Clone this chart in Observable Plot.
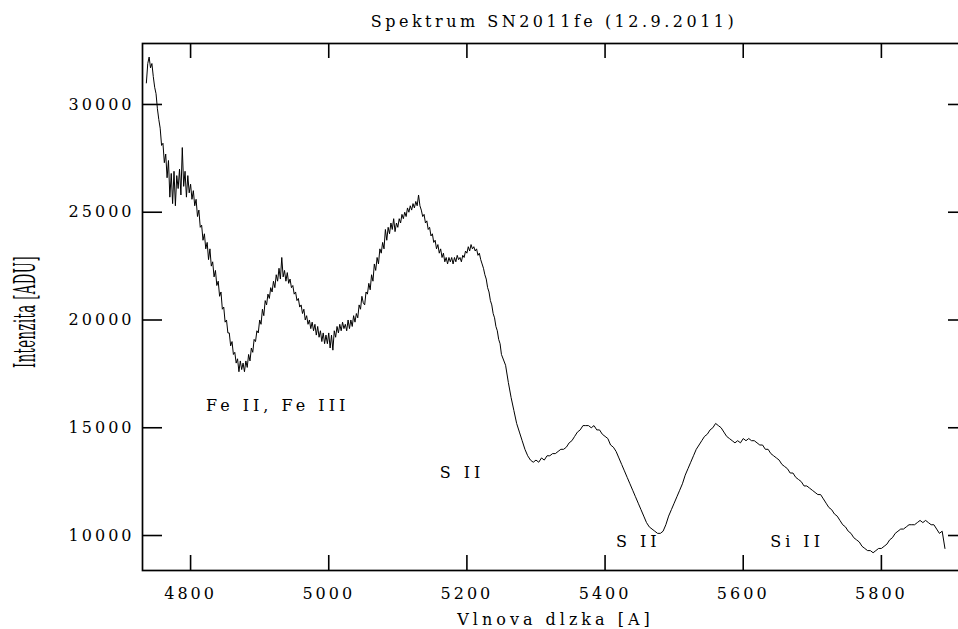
<!DOCTYPE html>
<html>
<head>
<meta charset="utf-8">
<script src="https://cdn.jsdelivr.net/npm/d3@7"></script>
<script src="https://cdn.jsdelivr.net/npm/@observablehq/plot@0.6"></script>
<style>
  html, body { margin: 0; padding: 0; background: #fff; overflow: hidden; }
  #wrap { position: relative; width: 958px; height: 629px; }
  #title { position: absolute; left: 554px; top: 12px; transform: translateX(-50%);
           font-family: "DejaVu Serif", serif; font-size: 16px; letter-spacing: 3.5px; white-space: nowrap; color: #000; }
  #chart { position: absolute; left: 0; top: 40px; }
</style>
</head>
<body>
<div id="wrap">
  <div id="title">Spektrum SN2011fe (12.9.2011)</div>
  <div id="chart"></div>
</div>
<script>
// wavelength [A] (blue part sampled every 2 A, red part every 4 A)
const wavelength = [
  4736,4738,4740,4742,4744,4746,4748,4750,4752,4754,
  4756,4758,4760,4762,4764,4766,4768,4770,4772,4774,
  4776,4778,4780,4782,4784,4786,4788,4790,4792,4794,
  4796,4798,4800,4802,4804,4806,4808,4810,4812,4814,
  4816,4818,4820,4822,4824,4826,4828,4830,4832,4834,
  4836,4838,4840,4842,4844,4846,4848,4850,4852,4854,
  4856,4858,4860,4862,4864,4866,4868,4870,4872,4874,
  4876,4878,4880,4882,4884,4886,4888,4890,4892,4894,
  4896,4898,4900,4902,4904,4906,4908,4910,4912,4914,
  4916,4918,4920,4922,4924,4926,4928,4930,4932,4934,
  4936,4938,4940,4942,4944,4946,4948,4950,4952,4954,
  4956,4958,4960,4962,4964,4966,4968,4970,4972,4974,
  4976,4978,4980,4982,4984,4986,4988,4990,4992,4994,
  4996,4998,5000,5002,5004,5006,5008,5010,5012,5014,
  5016,5018,5020,5022,5024,5026,5028,5030,5032,5034,
  5036,5038,5040,5042,5044,5046,5048,5050,5052,5054,
  5056,5058,5060,5062,5064,5066,5068,5070,5072,5074,
  5076,5078,5080,5082,5084,5086,5088,5090,5092,5094,
  5096,5098,5100,5102,5104,5106,5108,5110,5112,5114,
  5116,5118,5120,5122,5124,5126,5128,5130,5132,5134,
  5136,5138,5140,5142,5144,5146,5148,5150,5152,5154,
  5156,5158,5160,5162,5164,5166,5168,5170,5172,5174,
  5176,5178,5180,5182,5184,5186,5188,5190,5192,5194,
  5196,5198,5200,5202,5204,5206,5208,5210,5212,5214,
  5216,5218,5220,5222,5224,5226,5228,5230,5232,5234,
  5236,5238,5240,5242,5244,5246,5248,5250,
  5256,5260,5264,5268,5272,5276,5280,5284,5288,5292,
  5296,5300,5304,5308,5312,5316,5320,5324,5328,5332,
  5336,5340,5344,5348,5352,5356,5360,5364,5368,5372,
  5376,5380,5384,5388,5392,5396,5400,5404,5408,5412,
  5416,5420,5424,5428,5432,5436,5440,5444,5448,5452,
  5456,5460,5464,5468,5472,5476,5480,5484,5488,5492,
  5496,5500,5504,5508,5512,5516,5520,5524,5528,5532,
  5536,5540,5544,5548,5552,5556,5560,5564,5568,5572,
  5576,5580,5584,5588,5592,5596,5600,5604,5608,5612,
  5616,5620,5624,5628,5632,5636,5640,5644,5648,5652,
  5656,5660,5664,5668,5672,5676,5680,5684,5688,5692,
  5696,5700,5704,5708,5712,5716,5720,5724,5728,5732,
  5736,5740,5744,5748,5752,5756,5760,5764,5768,5772,
  5776,5780,5784,5788,5792,5796,5800,5804,5808,5812,
  5816,5820,5824,5828,5832,5836,5840,5844,5848,5852,
  5856,5860,5864,5868,5872,5876,5880,5884,5888,5892
];
// intensity [ADU]
const intensity = [
  31000,31900,32200,31700,31900,31300,30800,30500,29800,29300,
  28900,28100,28200,27300,27700,26600,27400,25700,26800,25400,
  26900,25300,26700,26100,27000,25800,28000,26200,26900,25700,
  26700,25900,26300,25600,26000,25300,25600,24800,25100,24300,
  24400,23700,24000,23300,23600,22800,23300,22500,22700,22000,
  22300,21600,21800,21100,21300,20500,20600,19900,20000,19400,
  19400,18800,19000,18400,18500,18000,18200,17600,18100,17700,
  18000,17600,18100,17800,18400,18100,18700,18500,19100,19000,
  19500,19400,20000,19800,20500,20200,20900,20700,21200,21000,
  21500,21300,21800,21500,22100,21800,22400,21900,22900,22000,
  22300,21800,22200,21700,21900,21500,21600,21200,21300,20900,
  21000,20600,20700,20300,20500,20000,20200,19800,20000,19600,
  19900,19500,19800,19300,19700,19200,19500,19000,19400,18900,
  19300,18900,19400,18700,19300,18600,19500,19200,19700,19400,
  19800,19500,19900,19600,19800,19500,20000,19600,20000,19700,
  20200,19900,20300,20100,20700,20500,21100,20800,20700,21300,
  21200,21700,21400,22100,21800,22600,22300,22900,22600,23300,
  23100,23600,23300,24200,23700,24300,24000,24500,24200,24700,
  24100,24500,24300,24700,24500,24900,24700,25000,24800,25200,
  25000,25300,25100,25400,25200,25500,25300,25800,25300,25100,
  24800,24900,24500,24600,24200,24300,23900,24000,23600,23700,
  23300,23500,23100,23300,22900,23100,22700,22900,22600,22900,
  22700,22900,22600,22900,22700,23000,22800,22900,22700,23000,
  22900,23200,23100,23400,23200,23500,23300,23400,23200,23300,
  23000,23100,22800,22600,22400,22100,21900,21500,21300,20900,
  20700,20300,20100,19700,19500,19100,18900,18400,
  17900,17100,16400,15800,15200,14800,14400,14000,13700,13500,
  13400,13500,13400,13600,13500,13700,13700,13800,13800,13900,
  14000,14000,14100,14300,14400,14600,14800,14900,15100,15100,
  15100,15000,15100,14900,14900,14700,14600,14500,14200,14100,
  13900,13600,13300,13000,12700,12400,12100,11800,11500,11200,
  10900,10600,10400,10300,10200,10100,10100,10200,10500,10900,
  11200,11500,11800,12100,12400,12800,13100,13400,13700,14000,
  14200,14400,14600,14700,14900,15000,15200,15100,15000,14800,
  14600,14500,14400,14300,14400,14300,14500,14400,14500,14400,
  14400,14300,14200,14200,14000,14000,13800,13700,13600,13500,
  13300,13200,13100,12900,12900,12700,12600,12500,12300,12300,
  12200,12100,12000,11900,11900,11700,11500,11300,11200,11000,
  10900,10700,10500,10400,10200,10100,9900,9800,9700,9500,
  9400,9300,9300,9200,9300,9400,9400,9500,9600,9800,
  9900,10100,10200,10300,10300,10400,10500,10500,10500,10600,
  10700,10600,10700,10600,10500,10500,10300,10100,10200,9400
];
const xTicks = [4800, 5000, 5200, 5400, 5600, 5800];
const yTicks = [10000, 15000, 20000, 25000, 30000];
const lineLabels = ["Fe II, Fe III", "S II", "S II", "Si II"];
const labelWavelength = [4926, 5193, 5448, 5678];
const labelIntensity = [16000, 12900, 9700, 9700];

const spectrum = wavelength.map((w, i) => ({w, v: intensity[i]}));
const labels = lineLabels.map((t, i) => ({t, w: labelWavelength[i], v: labelIntensity[i]}));

const W = 958, H = 589;
const mL = 142, mR = -10, mT = 3, mB = 59;
const fw = W - mL - mR, fh = H - mT - mB;

const chart = Plot.plot({
  width: W, height: H,
  marginLeft: mL, marginRight: mR, marginTop: mT, marginBottom: mB,
  style: {fontFamily: "'DejaVu Serif', serif", fontSize: "16px", letterSpacing: "3px", color: "#000", background: "#fff"},
  x: {domain: [4730.4, 5926.1]},
  y: {domain: [8377, 32829]},
  marks: [
    Plot.line(spectrum, {x: "w", y: "v", stroke: "#000", strokeWidth: 1}),
    Plot.tickX(xTicks, {x: d => d, insetTop: fh - 15, stroke: "#000", strokeWidth: 1.6}),
    Plot.tickX(xTicks, {x: d => d, insetBottom: fh - 15, stroke: "#000", strokeWidth: 1.6}),
    Plot.tickY(yTicks, {y: d => d, insetRight: fw - 20, stroke: "#000", strokeWidth: 1.6}),
    Plot.tickY(yTicks, {y: d => d, insetLeft: fw - 20, stroke: "#000", strokeWidth: 1.6}),
    Plot.axisX(xTicks, {tickSize: 0, tickPadding: 17, label: null, fontSize: 16, tickFormat: "d"}),
    Plot.axisY(yTicks, {tickSize: 0, tickPadding: 8, label: null, fontSize: 16, tickFormat: "d"}),
    Plot.text(labels, {x: "w", y: "v", text: "t", fontSize: 16, textAnchor: "middle"}),
    Plot.text(["Vlnova dlzka [A]"], {frameAnchor: "bottom", dy: 54, lineAnchor: "bottom", fontSize: 16, textAnchor: "middle"}),
    Plot.text(["Intenzita [ADU]"], {frameAnchor: "left", dx: -107, rotate: -90, lineAnchor: "bottom", fontSize: 30, textAnchor: "middle"}),
    Plot.frame({stroke: "#000", strokeWidth: 1.7})
  ]
});
document.getElementById("chart").appendChild(chart);

d3.select(chart).selectAll("text").each(function () {
  const t = this.textContent;
  if (t === "Intenzita [ADU]") {
    // condensed, tall y label like the original
    d3.select(this).attr("transform", "translate(35,272) rotate(-90) scale(0.44,1)")
      .attr("x", 0).attr("y", 0).attr("text-anchor", "middle").style("letter-spacing", "1px");
    if (this.parentNode && this.parentNode.getAttribute("transform")) this.parentNode.removeAttribute("transform");
  } else if (t === "Vlnova dlzka [A]" || lineLabels.includes(t)) {
    d3.select(this).style("letter-spacing", "4px");
  }
});
</script>
</body>
</html>
